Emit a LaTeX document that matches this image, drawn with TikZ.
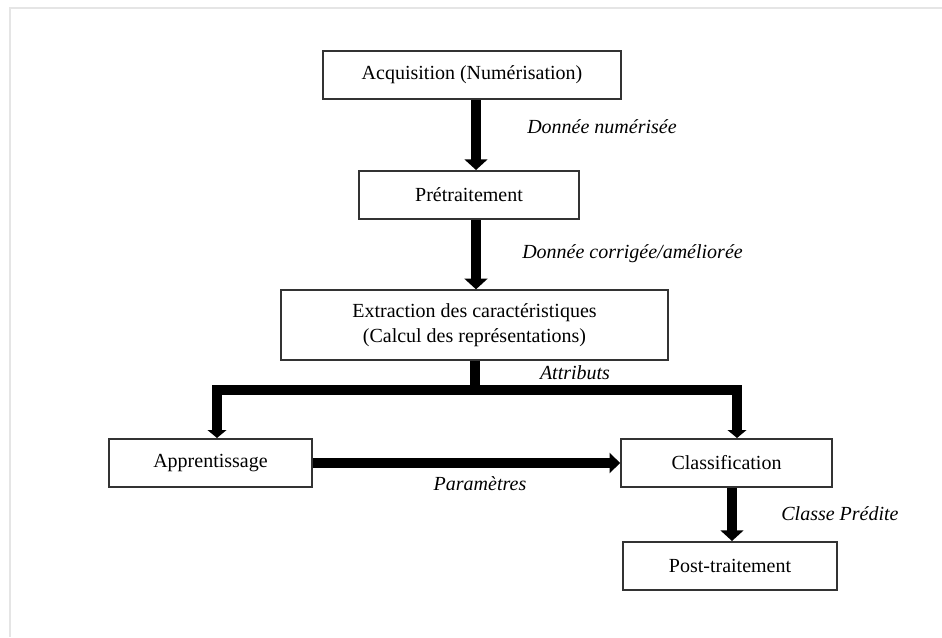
\documentclass[tikz,border=0pt]{standalone}
\usepackage{fontspec}
\setmainfont{Liberation Serif}
\usetikzlibrary{arrows.meta}
\begin{document}
\begin{tikzpicture}[x=0.75pt,y=-0.75pt,
  box/.style={draw=black!80, line width=1.5pt, fill=white, inner sep=0pt,
    font=\fontsize{15}{19}\selectfont, align=center},
  flow/.style={line width=8pt, line join=miter,
    -{Triangle[width=17pt,length=8pt]}},
  branch/.style={line width=7.5pt, line join=miter,
    -{Triangle[width=14pt,length=6pt]}},
  trunk/.style={line width=7.5pt},
  lbl/.style={font=\fontsize{15}{18}\selectfont\itshape, inner sep=0pt},
  card/.style={draw=black!10, line width=1.5pt}]

% page and the faint sheet edge
\useasboundingbox[fill=white] (0,0) rectangle (942,637);
\draw[card] (10,637) -- (10,8) -- (942,8);

% process boxes
\node[box, minimum width=223.5pt, minimum height=36pt] (acq) at (472,75) {Acquisition (Numérisation)};
\node[box, minimum width=165pt, minimum height=36pt] (pre) at (469,195) {Prétraitement};
\node[box, minimum width=290pt, minimum height=52pt] (ext) at (474.5,325)
  {Extraction des caractéristiques\\(Calcul des représentations)};
\node[box, minimum width=152pt, minimum height=36pt] (app) at (210.5,463) {Apprentissage};
\node[box, minimum width=158pt, minimum height=36pt] (cls) at (726.5,463) {Classification};
\node[box, minimum width=160.5pt, minimum height=36pt] (post) at (730,566) {Post-traitement};

% connector guide coordinates
\coordinate (c1) at (476,0);
\coordinate (split) at (475,390);
\coordinate (lt) at (217,390);
\coordinate (rt) at (737,390);
\coordinate (c6) at (732,0);

% connectors
\draw[flow] (acq.south -| c1) -- (pre.north -| c1);
\draw[flow] (pre.south -| c1) -- (ext.north -| c1);
\draw[trunk] (ext.south -| split) -- (split);
\draw[branch] (split) -| (app.north -| lt);
\draw[branch] (split) -| (cls.north -| rt);
\draw[line width=7.5pt, -{Triangle[width=15pt,length=8pt]}] (app.east) -- (cls.west);
\draw[flow] (cls.south -| c6) -- (post.north -| c6);

% connector labels
\node[lbl, anchor=west] (l1) at (527,127) {Donnée numérisée};
\node[lbl, anchor=west] (l2) at (522,254) {Donnée corrigée/améliorée};
\node[lbl] (l3) at (575,373) {Attributs};
\node[lbl] (l4) at (480,484) {Paramètres};
\node[lbl] (l5) at (840,514) {Classe Prédite};
\end{tikzpicture}
\end{document}
